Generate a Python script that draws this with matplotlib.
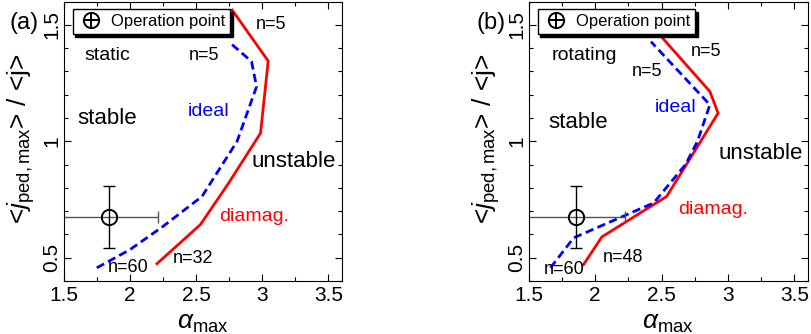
import matplotlib
matplotlib.use('Agg')
import matplotlib.pyplot as plt
from matplotlib.lines import Line2D
from matplotlib.legend_handler import HandlerTuple
from matplotlib.ticker import MultipleLocator

plt.rcParams['font.family'] = ['Liberation Sans', 'DejaVu Sans']
plt.rcParams['mathtext.fontset'] = 'custom'
plt.rcParams['mathtext.rm'] = 'Liberation Sans'
plt.rcParams['mathtext.it'] = 'Liberation Sans:italic'

# (a) static
alpha_diamag_a = [2.205, 2.533, 2.74, 2.987, 3.045, 2.773]
j_diamag_a = [0.474, 0.642, 0.815, 1.035, 1.345, 1.564]
alpha_ideal_a = [1.75, 2.0, 2.25, 2.545, 2.81, 2.957, 2.919, 2.747]
j_ideal_a = [0.456, 0.534, 0.634, 0.763, 1.0, 1.235, 1.343, 1.428]

# (b) rotating
alpha_diamag_b = [1.912, 2.05, 2.538, 2.925, 2.863, 2.508]
j_diamag_b = [0.470, 0.589, 0.763, 1.121, 1.214, 1.443]
alpha_ideal_b = [1.663, 1.838, 2.44, 2.68, 2.77, 2.863, 2.42]
j_ideal_b = [0.456, 0.585, 0.735, 0.9, 1.0, 1.157, 1.428]

# operation point (a, b)
op_alpha = [1.845, 1.858]
op_j = [0.673, 0.673]
op_alpha_err = 0.37
op_j_err = 0.133

panel_names = ['(a)', '(b)']
state_names = ['static', 'rotating']
n_labels_a = ['n=5', 'n=5', 'n=32', 'n=60']
n_labels_b = ['n=5', 'n=5', 'n=48', 'n=60']


def draw_panel(ax, i, ax_d, j_d, ax_i, j_i, texts):
    ax.plot(ax_d, j_d, color='red', lw=2.0, solid_joinstyle='miter')
    ax.plot(ax_i, j_i, color='blue', lw=2.0, dashes=(3, 1.6))

    ax.errorbar(op_alpha[i], op_j[i], xerr=op_alpha_err, fmt='none',
                ecolor='#555555', elinewidth=1.0, capsize=4, capthick=1.0)
    ax.errorbar(op_alpha[i], op_j[i], yerr=op_j_err, fmt='none',
                ecolor='black', elinewidth=1.0, capsize=4, capthick=1.0)
    ax.plot(op_alpha[i], op_j[i], 'o', mfc='none', mec='black', ms=11, mew=1.4)

    for (x, y, s, c, fs) in texts:
        ax.text(x, y, s, color=c, fontsize=fs, ha='center', va='center')

    ax.set_xlim(1.5, 3.6)
    ax.set_ylim(0.4, 1.6)
    ax.xaxis.set_minor_locator(MultipleLocator(0.25))
    ax.yaxis.set_minor_locator(MultipleLocator(0.1))
    ax.set_xticks([1.5, 2, 2.5, 3, 3.5])
    ax.set_xticklabels(['1.5', '2', '2.5', '3', '3.5'])
    ax.set_yticks([0.5, 1, 1.5])
    ax.set_yticklabels(['0.5', '1', '1.5'], rotation=90, va='center')
    ax.tick_params(which='both', direction='in', top=True, right=True,
                   width=0.8, labelsize=15)
    ax.tick_params(which='major', length=5)
    ax.tick_params(which='minor', length=3)
    ax.tick_params(axis='x', pad=4)
    ax.tick_params(axis='y', pad=2)
    for sp in ax.spines.values():
        sp.set_linewidth(0.8)

    ax.set_xlabel(r'$\alpha_{\mathrm{max}}$', fontsize=19)
    ax.xaxis.set_label_coords(0.5, -0.107)
    ax.set_ylabel(r'<$j_{\mathrm{ped,max}}$> / <j>', fontsize=19)
    ax.yaxis.set_label_coords(-0.095, 0.51)

    h_circ = Line2D([], [], ls='none', marker='o', mfc='none', mec='black', ms=11, mew=1.4)
    h_plus = Line2D([], [], ls='none', marker='+', color='black', ms=11, mew=1.4)
    ax.legend([(h_circ, h_plus)], ['Operation point'],
              handler_map={tuple: HandlerTuple(ndivide=1)},
              loc='upper left', bbox_to_anchor=(0.032, 0.973), borderaxespad=0,
              fontsize=12, fancybox=False, framealpha=1, edgecolor='black',
              shadow={'color': 'black', 'alpha': 1}, borderpad=0.3,
              handlelength=1.6, handletextpad=0.4)


fig = plt.figure(figsize=(8.11, 3.34), dpi=100)
ax_a = fig.add_axes([0.0785, 0.159, 0.3428, 0.836])
ax_b = fig.add_axes([0.652, 0.159, 0.344, 0.836])

texts_a = [
    (3.068, 1.50, n_labels_a[0], 'black', 13),
    (2.558, 1.367, n_labels_a[1], 'black', 13),
    (1.83, 1.367, state_names[0], 'black', 14),
    (1.826, 1.10, 'stable', 'black', 16),
    (2.595, 1.128, 'ideal', 'blue', 14),
    (3.24, 0.911, 'unstable', 'black', 16),
    (2.942, 0.677, 'diamag.', 'red', 14),
    (2.474, 0.496, n_labels_a[2], 'black', 13),
    (1.989, 0.458, n_labels_a[3], 'black', 13),
]
texts_b = [
    (2.838, 1.386, n_labels_b[0], 'black', 13),
    (2.388, 1.30, n_labels_b[1], 'black', 13),
    (1.918, 1.367, state_names[1], 'black', 14),
    (1.868, 1.082, 'stable', 'black', 16),
    (2.606, 1.146, 'ideal', 'blue', 14),
    (3.246, 0.949, 'unstable', 'black', 16),
    (2.888, 0.706, 'diamag.', 'red', 14),
    (2.213, 0.499, n_labels_b[2], 'black', 13),
    (1.768, 0.448, n_labels_b[3], 'black', 13),
]

draw_panel(ax_a, 0, alpha_diamag_a, j_diamag_a, alpha_ideal_a, j_ideal_a, texts_a)
draw_panel(ax_b, 1, alpha_diamag_b, j_diamag_b, alpha_ideal_b, j_ideal_b, texts_b)

fig.text(24 / 811, 1 - 23 / 334, panel_names[0], fontsize=17, ha='center', va='center')
fig.text(491 / 811, 1 - 23 / 334, panel_names[1], fontsize=17, ha='center', va='center')

fig.savefig('out.png', dpi=100)
